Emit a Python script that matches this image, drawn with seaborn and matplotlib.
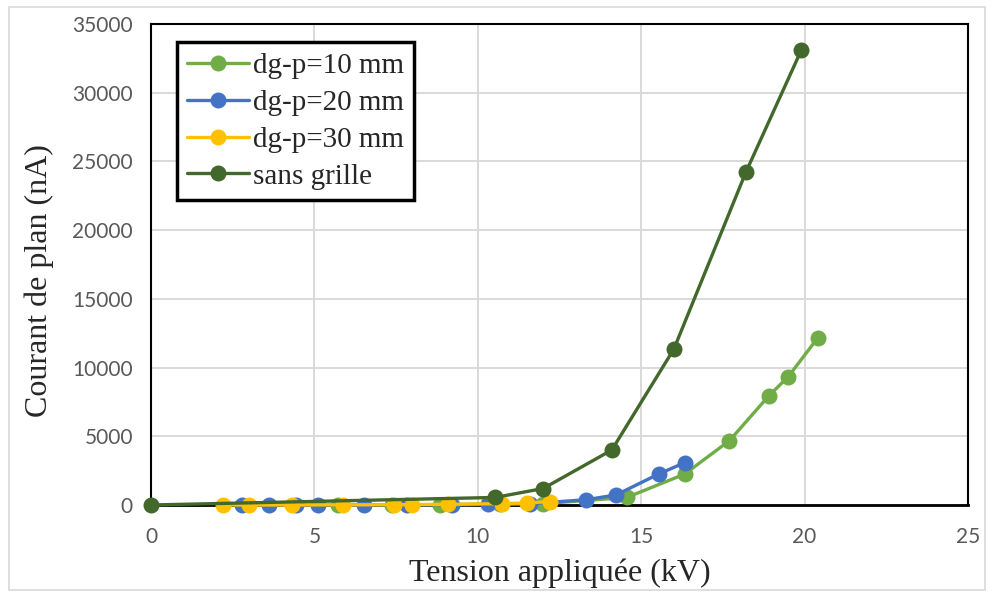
import numpy as np
import pandas as pd
import matplotlib
matplotlib.use("Agg")
import matplotlib.pyplot as plt
import seaborn as sns
from matplotlib.patches import Rectangle

# ---- data ----
labels = ["dg-p=10 mm", "dg-p=20 mm", "dg-p=30 mm", "sans grille"]

x_10 = [5.73, 7.37, 8.85, 10.68, 12.0, 14.56, 16.33, 17.7, 18.9, 19.5, 20.4]
y_10 = [0, 10, 20, 50, 100, 550, 2250, 4680, 7930, 9340, 12150]

x_20 = [2.78, 3.6, 4.45, 5.1, 6.52, 7.83, 9.2, 10.3, 11.6, 13.3, 14.23, 15.53, 16.33]
y_20 = [0, 0, 0, 0, 10, 20, 30, 50, 100, 380, 730, 2250, 3080]

x_30 = [2.2, 3.0, 4.3, 5.88, 7.45, 7.98, 9.1, 10.73, 11.5, 12.2]
y_30 = [0, 0, 0, 10, 20, 30, 50, 100, 150, 250]

x_sg = [0, 10.53, 12.0, 14.1, 16.0, 18.2, 19.9]
y_sg = [0, 550, 1200, 4000, 11350, 24200, 33100]

x_ticks = [0, 5, 10, 15, 20, 25]
y_ticks = [0, 5000, 10000, 15000, 20000, 25000, 30000, 35000]

colors = ["#70AD47", "#4472C4", "#FFC000", "#43682B"]

frames = []
for lab, xs, ys in zip(labels, [x_10, x_20, x_30, x_sg], [y_10, y_20, y_30, y_sg]):
    frames.append(pd.DataFrame({"V": xs, "I": ys, "serie": lab}))
df = pd.concat(frames, ignore_index=True)

sns.set_style("white")
fig = plt.figure(figsize=(9.94, 5.94), dpi=100)
ax = fig.add_axes([151/994, 1-505/594, (968-151)/994, (505-24)/594])

for lab, col in zip(labels, colors):
    sub = df[df["serie"] == lab]
    sns.lineplot(data=sub, x="V", y="I", ax=ax, color=col, marker="o",
                 markersize=11.5, markeredgewidth=0, linewidth=2.4,
                 sort=False, estimator=None, label=lab, clip_on=False, zorder=3)

ax.set_xlim(0, 25)
ax.set_ylim(0, 35000)
ax.set_xticks(x_ticks)
ax.set_yticks(y_ticks)
ax.set_xticklabels([str(t) for t in x_ticks])
ax.set_yticklabels([str(t) for t in y_ticks])
ax.grid(True, color="#D9D9D9", linewidth=1.4)
ax.set_axisbelow(True)
for s in ax.spines.values():
    s.set_visible(True)
    s.set_color("black")
    s.set_linewidth(1.5)
ax.spines["bottom"].set_linewidth(2.0)

ax.tick_params(axis="both", length=0, labelsize=15, labelcolor="#595959")
ax.tick_params(axis="x", pad=16)
ax.tick_params(axis="y", pad=13)
for t in ax.get_xticklabels() + ax.get_yticklabels():
    t.set_fontfamily("Lato")

ax.set_xlabel("Tension appliquée (kV)", fontfamily="Liberation Serif", fontsize=23, labelpad=8)
ax.set_ylabel("Courant de plan (nA)", fontfamily="Liberation Serif", fontsize=23)
ax.yaxis.set_label_coords(-0.119, 0.466)

leg = ax.legend(loc="upper left", bbox_to_anchor=(0.032, 0.962), frameon=True,
                fancybox=False, prop={"family": "Liberation Serif", "size": 21},
                handlelength=2.1, handletextpad=0.15, labelspacing=0.36,
                borderpad=0.35, borderaxespad=0, markerscale=1.0)
leg.get_frame().set_edgecolor("black")
leg.get_frame().set_linewidth(2.5)
leg.get_frame().set_alpha(1)

fig.patches.append(Rectangle((9/994, 1-590/594), (985-9)/994, (590-7)/594,
                             transform=fig.transFigure, fill=False,
                             edgecolor="#D9D9D9", linewidth=1.2))

fig.savefig("out.png", dpi=100)
